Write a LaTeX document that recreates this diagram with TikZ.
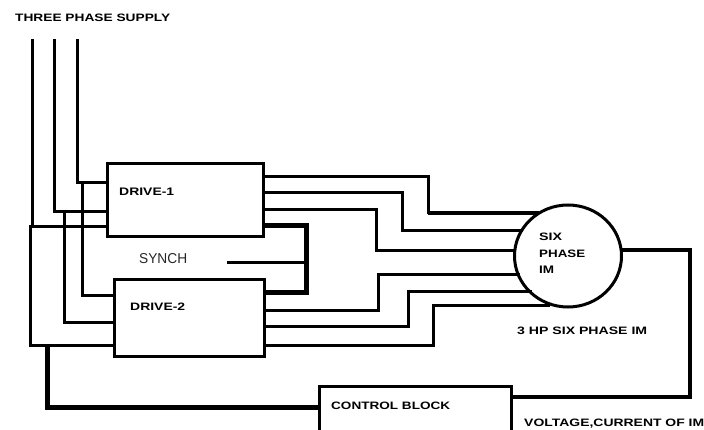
\documentclass[tikz,border=0pt]{standalone}
\usepackage{fontspec}
\usepackage{graphicx}
\setmainfont{Liberation Sans}
\usetikzlibrary{shapes.geometric}
\newcommand{\fitlbl}[2]{\resizebox{#1pt}{7.5pt}{\bfseries #2}}
\begin{document}
\begin{tikzpicture}[x=1pt,y=-1pt,
  wire/.style={line width=3pt,line join=miter,line cap=rect},
  heavy/.style={line width=5pt,line join=miter},
  mid/.style={line width=3.6pt,line join=miter},
  boxn/.style={draw,line width=3pt,inner sep=0pt,outer sep=0pt,anchor=north west,fill=white},
  lbl/.style={inner sep=0pt,anchor=west}]
\useasboundingbox[fill=white] (0,0) rectangle (704,430);
% boxes
\node[boxn,minimum width=156pt,minimum height=73pt] (d1) at (107,164) {};
\node[boxn,minimum width=150pt,minimum height=76pt] (d2) at (114,280) {};
\node[inner sep=0pt,outer sep=0pt,anchor=north west,minimum width=192pt,minimum height=44pt] (cb) at (319,386) {};
\node[draw,line width=3pt,ellipse,inner sep=0pt,outer sep=0pt,minimum width=107pt,minimum height=102pt] (im) at (568,256) {};
% free ends and bends
\coordinate (s1) at (32,41); \coordinate (s2) at (54,41); \coordinate (s3) at (77,41);
\coordinate (j3) at (77,183); \coordinate (j2) at (54,212); \coordinate (j1) at (32,227);
\coordinate (k3) at (82,183); \coordinate (k2) at (64,212);
% supply
\draw[wire] (s3) -- (j3) -- (d1.west |- j3);
\draw[wire] (s2) -- (j2) -- (d1.west |- j2);
\draw[wire] (s1) -- (j1);
\draw[wire] (d1.west |- j1) -- (30,227) -- (30,345) -- (d2.west |- 0,345);
\draw[wire] (k3) -- (82,296) -- (d2.west |- 0,296);
\draw[wire] (k2) -- (64,322) -- (d2.west |- 0,322);
% control feed
\draw[heavy] (47,345) -- (47,407) -- (cb.west |- 0,407);
% synch
\coordinate (sy) at (228,263);
\draw[heavy] (d1.east |- 0,226) -- (306,226) -- (306,293) -- (d2.east |- 0,293);
\draw[wire] (sy) -- (306,263);
% outputs of drive 1
\draw[wire] (d1.east |- 0,177) -- (428,177) -- (428,213);
\draw[mid] (428,213) -- (539,213);
\draw[wire] (d1.east |- 0,193) -- (402,193) -- (402,231) -- (521,231);
\draw[wire] (d1.east |- 0,210) -- (376,210) -- (376,251) -- (im.west |- 0,251);
% outputs of drive 2
\draw[wire] (d2.east |- 0,311) -- (378,311) -- (378,275) -- (518,275);
\draw[wire] (d2.east |- 0,326) -- (408,326) -- (408,292) -- (530,292);
\draw[wire] (d2.east |- 0,345) -- (433,345) -- (433,306) -- (548,306);
% control block (open at the bottom)
\draw[line width=3pt] (cb.south west) -- (cb.north west) -- (cb.north east) -- (cb.south east);
% feedback
\draw[mid] (im.east |- 0,250) -- (690,250) -- (690,397) -- (cb.east |- 0,397);
% labels
\node[lbl] (t0) at (15,18) {\fitlbl{155}{THREE PHASE SUPPLY}};
\node[lbl] (t1) at (119,192) {\fitlbl{55}{DRIVE-1}};
\node[lbl] (t2) at (130,307) {\fitlbl{55}{DRIVE-2}};
\node[lbl,text=black!85] (t3) at (139,259) {\resizebox{48pt}{10pt}{SYNCH}};
\node[lbl] (t4) at (539,237) {\fitlbl{23}{SIX}};
\node[lbl] (t5) at (539,254) {\fitlbl{46}{PHASE}};
\node[lbl] (t6) at (539,270) {\fitlbl{15}{IM}};
\node[lbl] (t7) at (517,331) {\fitlbl{130}{3 HP SIX PHASE IM}};
\node[lbl] (t8) at (331,406) {\fitlbl{119}{CONTROL BLOCK}};
\node[lbl] (t9) at (524,424) {\fitlbl{180}{VOLTAGE,CURRENT OF IM}};
\end{tikzpicture}
\end{document}
